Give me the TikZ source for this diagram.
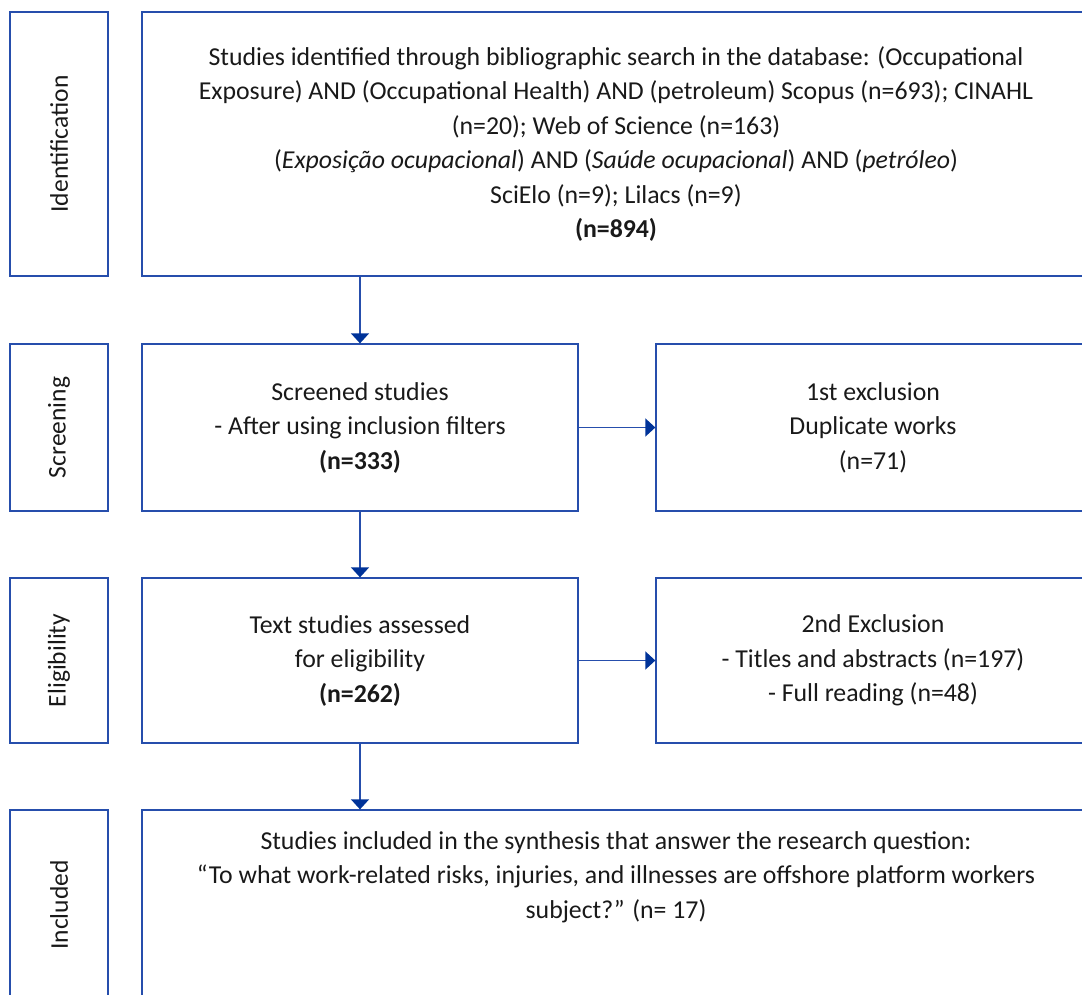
\documentclass[tikz,border=0pt]{standalone}
\usepackage{fontspec}
\setmainfont{Carlito}
\usetikzlibrary{arrows.meta}
\definecolor{boxblue}{RGB}{38,78,172}
\definecolor{tipblue}{RGB}{0,51,153}
\begin{document}
\begin{tikzpicture}[x=1pt,y=-1pt,
  box/.style={draw=boxblue,line width=1.3pt,rectangle,inner sep=0pt,align=center,
    font=\fontsize{25.8}{34.5}\selectfont,text=black!90},
  txt/.style={inner sep=0pt,align=center,font=\fontsize{25.8}{34.5}\selectfont,text=black!90},
  stagelab/.style={inner sep=0pt,rotate=90,font=\fontsize{25.5}{30}\selectfont,text=black!90},
  conn/.style={draw=boxblue,line width=1.3pt,-{Triangle[width=18pt,length=10pt,color=tipblue,fill=tipblue]}}]
\useasboundingbox (0,0) rectangle (1082,994);
\clip (0,0) rectangle (1082,994);
% stage label boxes
\node[box,minimum width=98pt,minimum height=264pt] (lid) at (59,144) {};
\node[stagelab] (tid) at (lid.center) {Identification};
\node[box,minimum width=98pt,minimum height=167pt] (lsc) at (59,427.5) {};
\node[stagelab] (tsc) at (lsc.center) {Screening};
\node[box,minimum width=98pt,minimum height=165pt] (lel) at (59,660.5) {};
\node[stagelab] (tel) at (lel.center) {Eligibility};
\node[box,minimum width=98pt,minimum height=190pt] (lin) at (59,905) {};
\node[stagelab] (tin) at (lin.center) {Included};
% main boxes
\node[box,minimum width=948pt,minimum height=264pt] (ident) at (616,144)
 {Studies identified through bibliographic search in the database: (Occupational\\
  Exposure) AND (Occupational Health) AND (petroleum) Scopus (n=693); CINAHL\\
  (n=20); Web of Science (n=163)\\
  (\textit{Exposição ocupacional}) AND (\textit{Saúde ocupacional}) AND (\textit{petróleo})\\
  SciElo (n=9); Lilacs (n=9)\\
  \textbf{(n=894)}};
\node[box,minimum width=436pt,minimum height=167pt] (scr) at (360,427.5)
 {Screened studies\\ - After using inclusion filters\\ \textbf{(n=333)}};
\node[box,minimum width=434pt,minimum height=167pt] (ex1) at (873,427.5)
 {1st exclusion\\ Duplicate works\\ (n=71)};
\node[box,minimum width=436pt,minimum height=165pt] (elig) at (360,660.5)
 {Text studies assessed\\ for eligibility\\ \textbf{(n=262)}};
\node[box,minimum width=434pt,minimum height=165pt] (ex2) at (873,660.5)
 {2nd Exclusion\\ - Titles and abstracts (n=197)\\ - Full reading (n=48)};
\node[box,minimum width=948pt,minimum height=190pt] (incl) at (616,905) {};
\node[txt] (itext) at (616,877)
 {Studies included in the synthesis that answer the research question:\\
  “To what work-related risks, injuries, and illnesses are offshore platform workers\\
  subject?” (n= 17)};
% connectors
\draw[conn] (ident.south -| scr.north) -- (scr.north);
\draw[conn] (scr.south) -- (elig.north);
\draw[conn] (elig.south) -- (incl.north -| elig.south);
\draw[conn] (scr.east) -- (ex1.west);
\draw[conn] (elig.east) -- (ex2.west);
\end{tikzpicture}
\end{document}
